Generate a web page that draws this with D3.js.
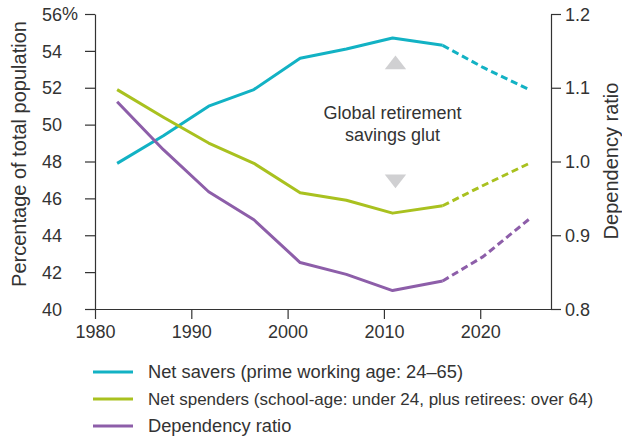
<!DOCTYPE html>
<html>
<head>
<meta charset="utf-8">
<script src="https://cdn.jsdelivr.net/npm/d3@7"></script>
<style>
  html, body { margin: 0; padding: 0; background: #fff; }
  svg { display: block; font-family: "Liberation Sans", Arial, sans-serif; }
  .axis path, .axis line { stroke: #333; stroke-width: 1.2; }
  .axis text { font-size: 18px; fill: #333; font-family: "Liberation Sans", Arial, sans-serif; }
</style>
</head>
<body>
<svg id="chart" width="622" height="438"></svg>
<script>
// ---- data ----
const years = [1982.3, 1987.1, 1991.8, 1996.5, 2001.3, 2006.1, 2010.9, 2016.1, 2020.3, 2025.1];
const netSavers = [47.9, 49.4, 51.0, 51.9, 53.6, 54.1, 54.7, 54.3, 53.1, 51.9];
const netSpenders = [51.9, 50.4, 49.0, 47.9, 46.3, 45.9, 45.2, 45.6, 46.7, 47.9];
const dependencyRatio = [1.081, 1.016, 0.959, 0.921, 0.863, 0.847, 0.825, 0.838, 0.871, 0.922];
const projectionStartIndex = 7; // from here on the series are dashed (projections)

const xTicks = [1980, 1990, 2000, 2010, 2020];
const leftTicks = [40, 42, 44, 46, 48, 50, 52, 54, 56];
const rightTicks = [0.8, 0.9, 1.0, 1.1, 1.2];

const seriesNames = [
  "Net savers (prime working age: 24\u201365)",
  "Net spenders (school-age: under 24, plus retirees: over 64)",
  "Dependency ratio"
];
const seriesColors = ["#12b2c4", "#a9c11f", "#8d5ea9"];
const leftTitle = "Percentage of total population";
const rightTitle = "Dependency ratio";
const annotationLines = ["Global retirement", "savings glut"];

// ---- layout ----
const svg = d3.select("#chart");
const mLeft = 95, mRight = 551, mTop = 14, mBottom = 309;

const x = d3.scaleLinear().domain([1980, 2027.35]).range([mLeft, mRight]);
const yL = d3.scaleLinear().domain([40, 56]).range([mBottom, mTop]);
const yR = d3.scaleLinear().domain([0.8, 1.2]).range([mBottom, mTop]);

// axes
const gL = svg.append("g").attr("class", "axis").attr("transform", `translate(${mLeft},0)`)
  .call(d3.axisLeft(yL).tickValues(leftTicks).tickSize(10).tickSizeOuter(0).tickPadding(23)
    .tickFormat(d3.format("d")));
gL.selectAll(".tick text").attr("dy", "0.34em");
// "%" after the top label
const topTick = leftTicks[leftTicks.length - 1];
svg.append("text").attr("x", mLeft - 33).attr("y", yL(topTick)).attr("dy", "0.34em")
  .attr("font-size", 18).attr("fill", "#333").text("%");

const gR = svg.append("g").attr("class", "axis").attr("transform", `translate(${mRight},0)`)
  .call(d3.axisRight(yR).tickValues(rightTicks).tickSize(10).tickSizeOuter(0).tickPadding(4)
    .tickFormat(d3.format(".1f")));
gR.selectAll(".tick text").attr("dy", "0.34em");

const gB = svg.append("g").attr("class", "axis").attr("transform", `translate(0,${mBottom})`)
  .call(d3.axisBottom(x).tickValues(xTicks).tickSize(10).tickSizeOuter(0).tickPadding(6)
    .tickFormat(d3.format("d")));

// axis titles
svg.append("text").attr("transform", `translate(26,154) rotate(-90)`)
  .attr("text-anchor", "middle").attr("font-size", 20).attr("fill", "#333").text(leftTitle);
svg.append("text").attr("transform", `translate(617.5,161) rotate(-90)`)
  .attr("text-anchor", "middle").attr("font-size", 20).attr("fill", "#333").text(rightTitle);

// annotation triangles + text
const tri = d3.symbol().type(d3.symbolTriangle).size(150);
const annX = x(2011.2);
svg.append("path").attr("d", tri()).attr("fill", "#d0d0d2")
  .attr("transform", `translate(${annX},${yL(53.25)}) scale(1.15,0.85)`);
svg.append("path").attr("d", tri()).attr("fill", "#d0d0d2")
  .attr("transform", `translate(${annX},${yL(47.05)}) rotate(180) scale(1.15,0.85)`);
svg.append("g").selectAll("text").data(annotationLines).join("text")
  .attr("x", x(2010.9)).attr("y", (d, i) => yL(50.3) + i * 22)
  .attr("text-anchor", "middle").attr("font-size", 18).attr("fill", "#333")
  .text(d => d);

// lines
const seriesData = [
  { vals: netSavers, scale: yL },
  { vals: netSpenders, scale: yL },
  { vals: dependencyRatio, scale: yR }
];
seriesData.forEach((s, i) => {
  const pts = years.map((yr, j) => [yr, s.vals[j]]);
  const line = d3.line().x(d => x(d[0])).y(d => s.scale(d[1]));
  svg.append("path").attr("d", line(pts.slice(0, projectionStartIndex + 1)))
    .attr("fill", "none").attr("stroke", seriesColors[i]).attr("stroke-width", 3)
    .attr("stroke-linejoin", "round");
  svg.append("path").attr("d", line(pts.slice(projectionStartIndex)))
    .attr("fill", "none").attr("stroke", seriesColors[i]).attr("stroke-width", 3)
    .attr("stroke-dasharray", "7,4").attr("stroke-linejoin", "round");
});

// legend
const leg = svg.append("g").selectAll("g").data(seriesNames).join("g")
  .attr("transform", (d, i) => `translate(93,${372 + i * 27})`);
leg.append("line").attr("x1", 0).attr("x2", 40).attr("y1", 0).attr("y2", 0)
  .attr("stroke", (d, i) => seriesColors[i]).attr("stroke-width", 3);
const legMax = 445, legFont = 18.3;
leg.append("text").attr("x", 55).attr("dy", "0.35em").attr("font-size", legFont)
  .attr("fill", "#333").text(d => d)
  .each(function () {
    const w = this.getComputedTextLength();
    if (w > legMax) d3.select(this).attr("font-size", (legFont * legMax / w).toFixed(2));
  });
</script>
</body>
</html>
